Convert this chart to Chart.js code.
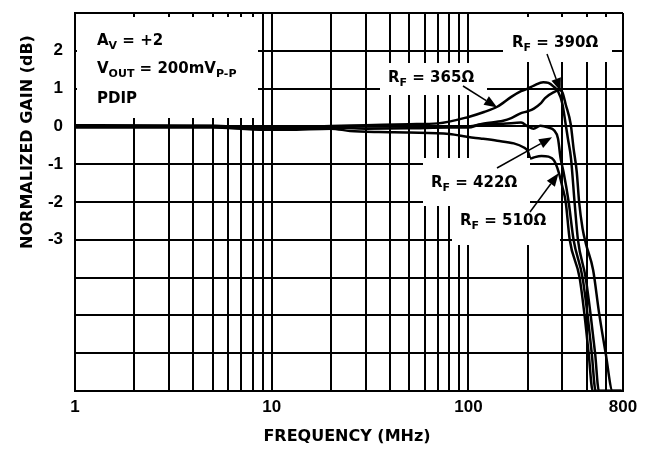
<!DOCTYPE html>
<html>
<head>
<meta charset="utf-8">
<script src="https://cdn.jsdelivr.net/npm/chart.js@4/dist/chart.umd.min.js"></script>
<style>
  html, body { margin: 0; padding: 0; background: #fff; }
  #wrap { width: 652px; height: 452px; }
</style>
</head>
<body>
<div id="wrap"><canvas id="gainChart"></canvas></div>
<script>
// normalized gain (dB) vs frequency (MHz), one pair of arrays per feedback resistor
var freq365 = [1, 5, 8, 12, 20, 30, 50, 70, 100, 120, 140, 165, 185, 200, 215, 240, 255, 270, 285, 300, 312, 320, 332, 346, 360, 394, 418, 440, 460, 600];
var gain365 = [0.03, 0.02, -0.03, -0.03, 0.01, 0.03, 0.06, 0.08, 0.25, 0.38, 0.52, 0.78, 0.93, 1.0, 1.08, 1.17, 1.15, 1.06, 0.93, 0.6, 0.05, -0.32, -0.85, -2.0, -3.0, -4.0, -5.0, -6.0, -7.0, -7.0];

var freq390 = [1, 5, 8, 12, 20, 30, 50, 80, 100, 120, 150, 165, 185, 200, 215, 232, 245, 270, 290, 300, 312, 331, 342, 355, 365, 380, 395, 430, 460, 498, 540, 600];
var gain390 = [0.01, 0.01, -0.05, -0.05, 0, 0, 0, 0, 0, 0.08, 0.15, 0.22, 0.35, 0.4, 0.47, 0.6, 0.75, 0.9, 0.96, 0.9, 0.58, 0.05, -0.58, -1.2, -2.0, -2.7, -3.1, -3.8, -4.9, -6.0, -7.0, -7.0];

var freq422 = [1, 5, 8, 12, 20, 30, 50, 80, 100, 115, 150, 185, 200, 214, 232, 255, 272, 285, 294, 304, 323, 342, 380, 403, 423, 443, 600];
var gain422 = [-0.01, -0.01, -0.06, -0.07, -0.03, -0.06, -0.05, -0.03, -0.03, 0.05, 0.07, 0.1, 0.0, -0.06, 0.02, -0.03, -0.1, -0.32, -0.85, -1.2, -2.0, -3.0, -4.0, -5.0, -6.0, -7.0, -7.0];

var freq510 = [1, 5, 8, 12, 20, 25, 35, 50, 80, 100, 115, 140, 170, 190, 200, 207, 215, 235, 255, 272, 287, 300, 312, 327, 367, 389, 408, 428, 600];
var gain510 = [-0.03, -0.03, -0.08, -0.09, -0.06, -0.12, -0.15, -0.16, -0.2, -0.28, -0.32, -0.38, -0.45, -0.55, -0.65, -0.85, -0.82, -0.78, -0.8, -0.9, -1.2, -1.6, -2.0, -3.0, -4.0, -5.0, -6.0, -7.0, -7.0];

var xGridValues = [1, 2, 3, 4, 5, 6, 7, 8, 9, 10, 20, 30, 40, 50, 60, 70, 80, 90, 100, 200, 300, 400, 500, 610];
var xTickValues = [1, 10, 100, 610];
var xTickLabels = ['1', '10', '100', '800'];
var yTickLabels = [2, 1, 0, -1, -2, -3];

function pairs(xs, ys) {
  return xs.map(function (x, i) { return { x: x, y: ys[i] }; });
}

function curve(label, xs, ys) {
  return {
    label: label,
    data: pairs(xs, ys),
    borderColor: '#000',
    borderWidth: 2.5,
    pointRadius: 0,
    fill: false,
    cubicInterpolationMode: 'monotone'
  };
}

// draws text with subscript parts: [[text, isSub], ...]
function richText(ctx, x, y, parts, size) {
  parts.forEach(function (p) {
    var sub = p[1];
    ctx.font = 'bold ' + (sub ? size - 4 : size) + 'px "DejaVu Sans"';
    ctx.fillText(p[0], x, sub ? y + 4 : y);
    x += ctx.measureText(p[0]).width;
  });
}

function arrow(ctx, x0, y0, x1, y1) {
  var a = Math.atan2(y1 - y0, x1 - x0);
  var len = 13, half = 5;
  ctx.beginPath();
  ctx.moveTo(x0, y0);
  ctx.lineTo(x1 - len * Math.cos(a), y1 - len * Math.sin(a));
  ctx.lineWidth = 1.5;
  ctx.stroke();
  ctx.beginPath();
  ctx.moveTo(x1, y1);
  ctx.lineTo(x1 - len * Math.cos(a) + half * Math.sin(a), y1 - len * Math.sin(a) - half * Math.cos(a));
  ctx.lineTo(x1 - len * Math.cos(a) - half * Math.sin(a), y1 - len * Math.sin(a) + half * Math.cos(a));
  ctx.closePath();
  ctx.fill();
}

var notes = {
  id: 'notes',
  afterDatasetsDraw: function (chart) {
    var ctx = chart.ctx;
    var xs = chart.scales.x, ys = chart.scales.y;
    ctx.save();
    // white boxes behind labels
    ctx.fillStyle = '#fff';
    [[77, 17, 258, 118], [503, 17, 612, 62], [380, 63, 487, 95],
     [423, 158, 530, 206], [452, 206, 560, 245]].forEach(function (b) {
      ctx.fillRect(b[0], b[1], b[2] - b[0], b[3] - b[1]);
    });
    ctx.fillStyle = '#000';
    ctx.strokeStyle = '#000';
    ctx.textBaseline = 'alphabetic';
    ctx.textAlign = 'left';
    richText(ctx, 97, 45, [['A', 0], ['V', 1], [' = +2', 0]], 15);
    richText(ctx, 97, 73, [['V', 0], ['OUT', 1], [' = 200mV', 0], ['P-P', 1]], 15);
    richText(ctx, 97, 103, [['PDIP', 0]], 15);
    richText(ctx, 512, 47, [['R', 0], ['F', 1], [' = 390\u03A9', 0]], 15);
    richText(ctx, 388, 82, [['R', 0], ['F', 1], [' = 365\u03A9', 0]], 15);
    richText(ctx, 431, 187, [['R', 0], ['F', 1], [' = 422\u03A9', 0]], 15);
    richText(ctx, 460, 225, [['R', 0], ['F', 1], [' = 510\u03A9', 0]], 15);
    // arrows: tail in pixels, tip on the curve (data coords)
    arrow(ctx, 547, 54, xs.getPixelForValue(294), ys.getPixelForValue(0.93));
    arrow(ctx, 463, 86, xs.getPixelForValue(140), ys.getPixelForValue(0.5));
    arrow(ctx, 497, 168, xs.getPixelForValue(266), ys.getPixelForValue(-0.29));
    arrow(ctx, 530, 212, xs.getPixelForValue(287), ys.getPixelForValue(-1.24));
    // axis titles
    ctx.font = 'bold 16px "DejaVu Sans"';
    ctx.textAlign = 'center';
    ctx.fillText('FREQUENCY (MHz)', 347, 441);
    ctx.translate(31.5, 142);
    ctx.rotate(-Math.PI / 2);
    ctx.fillText('NORMALIZED GAIN (dB)', 0, 0);
    ctx.restore();
  }
};

var tickFont = { family: '"Liberation Sans", Arial, sans-serif', size: 17, weight: 'bold' };

var ctx = document.getElementById('gainChart').getContext('2d');
var gainChart = new Chart(ctx, {
  type: 'line',
  data: {
    datasets: [
      curve('RF = 365', freq365, gain365),
      curve('RF = 390', freq390, gain390),
      curve('RF = 422', freq422, gain422),
      curve('RF = 510', freq510, gain510)
    ]
  },
  options: {
    responsive: true,
    maintainAspectRatio: false,
    animation: false,
    layout: { padding: { top: 13, right: 29, left: 0, bottom: 0 } },
    scales: {
      x: {
        type: 'logarithmic',
        min: 1,
        max: 610,
        afterBuildTicks: function (scale) {
          scale.ticks = xGridValues.map(function (v) { return { value: v }; });
        },
        afterFit: function (scale) {
          scale.height = 61;
          scale.paddingLeft = 0;
          scale.paddingRight = 0;
        },
        grid: { color: '#000', lineWidth: 2, drawTicks: false },
        border: { color: '#000', width: 2 },
        ticks: {
          autoSkip: false,
          maxRotation: 0,
          padding: 6,
          color: '#000',
          font: tickFont,
          callback: function (v) {
            var i = xTickValues.indexOf(v);
            return i >= 0 ? xTickLabels[i] : '';
          }
        }
      },
      y: {
        min: -7,
        max: 3,
        afterFit: function (scale) {
          scale.width = 75;
          scale.paddingTop = 0;
          scale.paddingBottom = 0;
        },
        grid: { color: '#000', lineWidth: 2, drawTicks: false },
        border: { color: '#000', width: 2 },
        ticks: {
          stepSize: 1,
          padding: 12,
          color: '#000',
          font: tickFont,
          callback: function (v) {
            return yTickLabels.indexOf(v) >= 0 ? String(v) : '';
          }
        }
      }
    },
    plugins: {
      legend: { display: false },
      tooltip: { enabled: false }
    }
  },
  plugins: [notes]
});
</script>
</body>
</html>
